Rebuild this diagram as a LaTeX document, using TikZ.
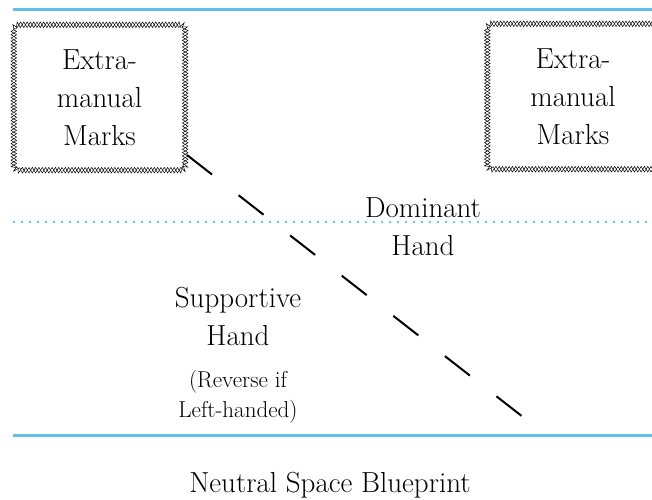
\documentclass[tikz,border=0pt]{standalone}
\usetikzlibrary{decorations.pathmorphing}
\definecolor{lineblue}{RGB}{98,192,232}
\newcommand\mybigfont{\fontsize{29}{38}\selectfont}
\newcommand\mysmallfont{\fontsize{23}{30}\selectfont}
\begin{document}
\begin{tikzpicture}[x=1pt,y=-1pt,
  chainbox/.style={minimum width=171pt, minimum height=145pt, inner sep=0pt,
    align=center, font=\mybigfont},
  zigline/.style={draw=black, line width=0.5pt},
  zigA/.style={decoration={zigzag, segment length=6.6pt, amplitude=2.8pt}},
  zigB/.style={decoration={zigzag, segment length=6.6pt, amplitude=2.8pt, mirror}},
  bigtext/.style={inner sep=0pt, align=center, font=\mybigfont},
  smalltext/.style={inner sep=0pt, align=center, font=\mysmallfont},
  solidrule/.style={draw=lineblue, line width=3pt},
  dotrule/.style={draw=lineblue, line width=2.6pt, line cap=round, dash pattern=on 0pt off 8pt},
  handline/.style={draw=black, line width=2pt, dash pattern=on 31.7pt off 33.7pt}]
\useasboundingbox (0,0) rectangle (652,499);
% rules
\coordinate (topL) at (13,9);
\coordinate (topR) at (652,9);
\coordinate (midL) at (14,222);
\coordinate (midR) at (652,222);
\coordinate (botL) at (13,435);
\coordinate (botR) at (652,435);
\draw[solidrule] (topL) -- (topR);
\draw[dotrule] (midL) -- (midR);
\draw[solidrule] (botL) -- (botR);
% boxes
\node[chainbox] (leftbox) at (99.5,97.5) {Extra-\\manual\\Marks};
\node[chainbox] (rightbox) at (573,96.5) {Extra-\\manual\\Marks};
\foreach \b in {leftbox,rightbox}{
  \draw[zigline] decorate[zigA] {{[rounded corners=5pt] (\b.north west) rectangle (\b.south east)}};
  \draw[zigline] decorate[zigB] {{[rounded corners=5pt] (\b.north west) rectangle (\b.south east)}};
}
% diagonal
\coordinate (diagS) at (187,155);
\coordinate (diagE) at (523,417);
\draw[handline] (diagS) -- (diagE);
% labels
\node[bigtext] (dominant) at (423,226.5) {Dominant\\Hand};
\node[bigtext] (supportive) at (238,316) {Supportive\\Hand};
\node[smalltext] (reverse) at (238,396.5) {(Reverse if\\Left-handed)};
\node[bigtext, anchor=base] (title) at (330,492) {Neutral Space Blueprint};
\end{tikzpicture}
\end{document}
